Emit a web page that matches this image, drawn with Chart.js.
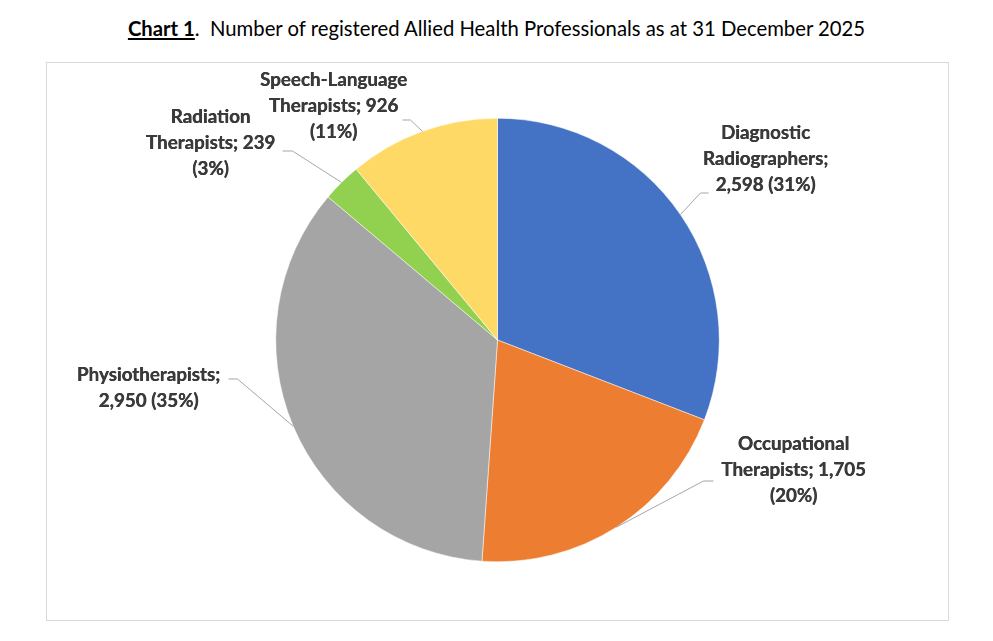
<!DOCTYPE html>
<html>
<head>
<meta charset="utf-8">
<script src="https://cdn.jsdelivr.net/npm/chart.js@4.4.1/dist/chart.umd.min.js"></script>
<style>
body { margin: 0; background: #fff; width: 993px; height: 641px; position: relative; overflow: hidden; font-family: Lato, sans-serif; }
#title { position: absolute; left: 0; top: 16px; width: 993px; text-align: center; font-size: 20.3px; color: #000; }
#box { position: absolute; left: 46px; top: 62px; width: 901px; height: 557px; border: 1px solid #d9d9d9; }
canvas { display: block; }
</style>
</head>
<body>
<div id="title"><b><u>Chart 1</u></b>.&nbsp; Number of registered Allied Health Professionals as at 31 December 2025</div>
<div id="box"><canvas id="pie" width="901" height="557"></canvas></div>
<script>
// data
var categories = ['Diagnostic Radiographers', 'Occupational Therapists', 'Physiotherapists', 'Radiation Therapists', 'Speech-Language Therapists'];
var counts = [2598, 1705, 2950, 239, 926];
var sliceColors = ['#4472c4', '#ed7d31', '#a5a5a5', '#92d050', '#ffd966'];

// label placement, relative to the pie centre (text centre, elbow, end of leader, wrap width)
var labelLayout = [
    { tx: 268, ty: -181, bx: 203, by: -147, ex: 211, ey: -147, wrap: 140 },
    { tx: 296, ty: 130, bx: 206, by: 141, ex: 216, ey: 141, wrap: 175 },
    { tx: -349, ty: 48, bx: -260, by: 39, ex: -269, ey: 39, wrap: 170 },
    { tx: -287, ty: -197, bx: -205, by: -189, ex: -215, ey: -189, wrap: 150 },
    { tx: -164, ty: -234, bx: -87, by: -220, ex: -95, ey: -220, wrap: 170 }
];

var total = counts.reduce(function (a, b) { return a + b; }, 0);

function wrapText(ctx, text, maxW) {
    var words = text.split(' ');
    var lines = [];
    var cur = '';
    words.forEach(function (w) {
        var test = cur ? cur + ' ' + w : w;
        if (cur && ctx.measureText(test).width > maxW) {
            lines.push(cur);
            cur = w;
        } else {
            cur = test;
        }
    });
    if (cur) lines.push(cur);
    return lines;
}

var leaderLabels = {
    id: 'leaderLabels',
    afterDatasetsDraw: function (chart) {
        var ctx = chart.ctx;
        var arcs = chart.getDatasetMeta(0).data;
        ctx.save();
        ctx.font = 'bold 18.8px Lato';
        arcs.forEach(function (arc, i) {
            var p = arc.getProps(['x', 'y', 'startAngle', 'endAngle', 'outerRadius'], true);
            var mid = (p.startAngle + p.endAngle) / 2;
            var lay = labelLayout[i];
            var sx = p.x + Math.cos(mid) * p.outerRadius;
            var sy = p.y + Math.sin(mid) * p.outerRadius;

            ctx.strokeStyle = '#a6a6a6';
            ctx.lineWidth = 1;
            ctx.beginPath();
            ctx.moveTo(sx, sy);
            ctx.lineTo(p.x + lay.bx, p.y + lay.by);
            ctx.lineTo(p.x + lay.ex, p.y + lay.ey);
            ctx.stroke();

            var pct = Math.round(counts[i] / total * 100);
            var text = categories[i] + '; ' + counts[i].toLocaleString('en-US') + ' (' + pct + '%)';
            var lines = wrapText(ctx, text, lay.wrap);
            var lh = 26;
            var y0 = p.y + lay.ty - (lines.length - 1) * lh / 2;
            ctx.fillStyle = '#3a3a3a';
            ctx.textAlign = 'center';
            ctx.textBaseline = 'middle';
            lines.forEach(function (ln, k) {
                ctx.fillText(ln, p.x + lay.tx, y0 + k * lh);
                // slight double strike to thicken the bold face
                ctx.fillText(ln, p.x + lay.tx + 0.4, y0 + k * lh);
            });
        });
        ctx.restore();
    }
};

var pieChart = new Chart(document.getElementById('pie').getContext('2d'), {
    type: 'pie',
    data: {
        labels: categories,
        datasets: [{
            data: counts,
            backgroundColor: sliceColors,
            borderColor: '#ffffff',
            borderWidth: 0.5
        }]
    },
    options: {
        responsive: false,
        animation: false,
        layout: { padding: { top: 55, bottom: 58, left: 0, right: 0 } },
        plugins: {
            legend: { display: false },
            tooltip: { enabled: false }
        }
    },
    plugins: [leaderLabels]
});
</script>
</body>
</html>
